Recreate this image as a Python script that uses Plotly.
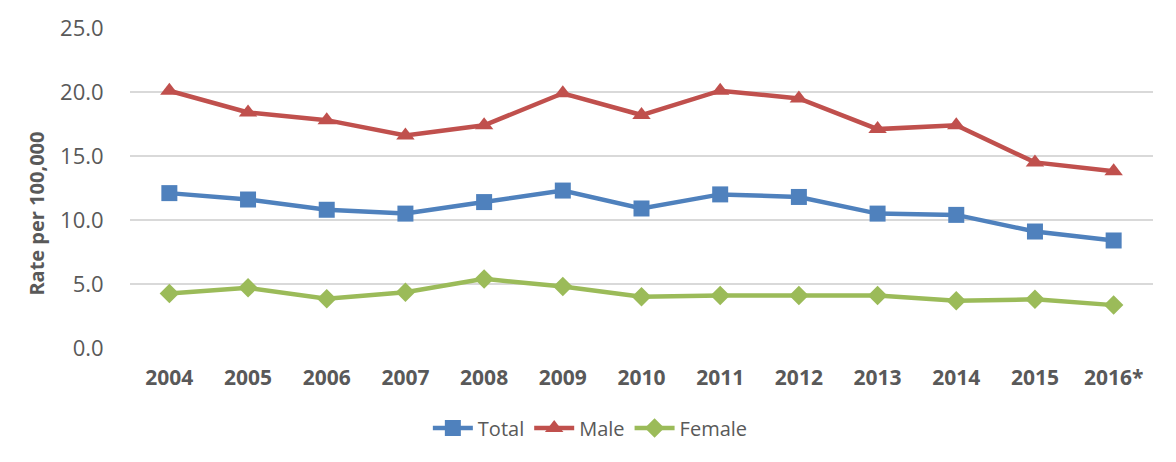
import plotly.graph_objects as go

years = ["2004", "2005", "2006", "2007", "2008", "2009", "2010", "2011", "2012", "2013", "2014", "2015", "2016*"]
total = [12.1, 11.6, 10.8, 10.5, 11.4, 12.3, 10.9, 12.0, 11.8, 10.5, 10.4, 9.1, 8.4]
male = [20.1, 18.4, 17.8, 16.6, 17.4, 19.9, 18.2, 20.1, 19.5, 17.1, 17.4, 14.5, 13.8]
female = [4.25, 4.7, 3.85, 4.35, 5.4, 4.8, 4.0, 4.1, 4.1, 4.1, 3.7, 3.8, 3.35]

y_ticks = [0, 5, 10, 15, 20, 25]

FONT = "Open Sans"
GRAY = "#595959"

fig = go.Figure()
fig.add_trace(go.Scatter(x=years, y=total, name="Total", mode="lines+markers",
                         line=dict(color="#4F81BD", width=4.5),
                         marker=dict(symbol="square", size=16, color="#4F81BD")))
fig.add_trace(go.Scatter(x=years, y=male, name="Male", mode="lines+markers",
                         line=dict(color="#C0504D", width=4.5),
                         marker=dict(symbol="triangle-up", size=16, color="#C0504D")))
fig.add_trace(go.Scatter(x=years, y=female, name="Female", mode="lines+markers",
                         line=dict(color="#9BBB59", width=4.5),
                         marker=dict(symbol="diamond", size=15, color="#9BBB59")))

fig.update_layout(
    width=1176, height=462,
    margin=dict(l=130, r=23, t=25, b=113.5),
    paper_bgcolor="white", plot_bgcolor="white",
    font=dict(family=FONT, color=GRAY),
    showlegend=True,
    legend=dict(orientation="h", x=0.45, xanchor="center", y=-0.25, yanchor="middle",
                font=dict(size=20, color=GRAY, family=FONT), itemwidth=40),
    xaxis=dict(type="category", range=[-0.5, 12.5], showgrid=False, zeroline=False,
               showline=False, ticks="outside", ticklen=11, tickcolor="rgba(0,0,0,0)",
               tickfont=dict(size=21, color=GRAY, family=FONT, weight="bold")),
    yaxis=dict(range=[0, 25], tickvals=y_ticks, tickformat=".1f", showgrid=True,
               gridcolor="#D9D9D9", gridwidth=1.5, zeroline=False, showline=False,
               ticks="outside", ticklen=21, tickcolor="rgba(0,0,0,0)",
               tickfont=dict(size=22, color=GRAY, family=FONT)),
    annotations=[dict(text="<b>Rate per 100,000</b>", textangle=-90, xref="paper", yref="paper",
                      x=-0.0909, y=0.42, xanchor="center", yanchor="middle", showarrow=False,
                      font=dict(size=20, color=GRAY, family=FONT))],
)

fig.write_html("out.html")
